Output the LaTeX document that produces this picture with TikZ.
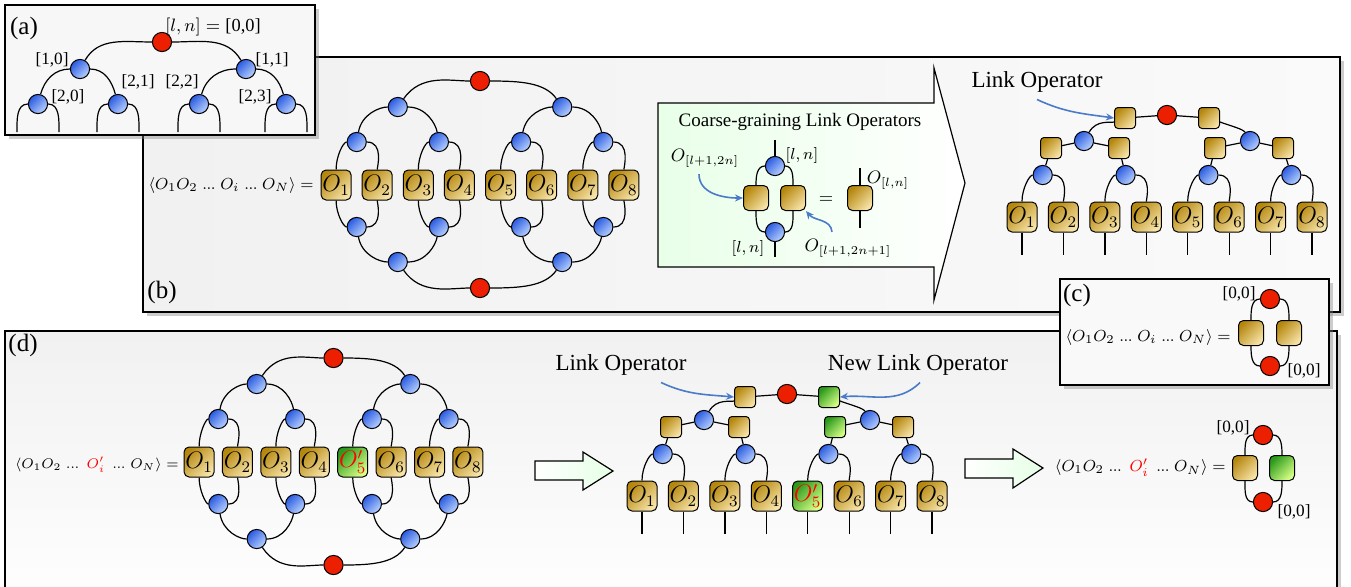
\documentclass[tikz,border=0pt]{standalone}
\usepackage{fontspec}
\setmainfont{Liberation Serif}
\usetikzlibrary{shadows,arrows.meta}

\definecolor{blobdark}{HTML}{2A5BE0}
\definecolor{bloblight}{HTML}{B9D2FF}
\definecolor{golddark}{HTML}{B5870F}
\definecolor{goldlight}{HTML}{F7E3A6}
\definecolor{grndark}{HTML}{2C9A1C}
\definecolor{grnlight}{HTML}{D6FF86}
\definecolor{rootred}{HTML}{EC2000}
\definecolor{pointer}{HTML}{4A7BC9}

\newcommand{\dts}{\mkern2mu\mathinner{.\mkern-0.5mu.\mkern-0.5mu.}\mkern2mu}

\tikzset{
  bond/.style={line width=0.6pt},
  blob/.style={circle, draw, line width=0.5pt, inner sep=0pt, minimum size=9.6pt,
    top color=blobdark, bottom color=bloblight, shading angle=45},
  root/.style={circle, draw, line width=0.5pt, inner sep=0pt, minimum size=9.6pt, fill=rootred},
  op/.style={rectangle, draw, line width=0.5pt, rounded corners=2.5pt, inner sep=0pt,
    minimum size=15pt, top color=golddark, bottom color=goldlight, shading angle=45,
    font=\fontsize{11.5}{13}\selectfont},
  newop/.style={op, top color=grndark, bottom color=grnlight, shading angle=45},
  link/.style={op, minimum size=10.5pt, rounded corners=1.8pt},
  newlink/.style={newop, minimum size=10.5pt, rounded corners=1.8pt},
  pair/.style={op, minimum size=12.5pt},
  newpair/.style={newop, minimum size=12.5pt},
  panel/.style={draw, line width=0.6pt, drop shadow={shadow xshift=2pt, shadow yshift=-2pt, opacity=0.4}},
  fatarrow/.style={draw, line width=0.6pt, left color=white, right color=green!10},
  pointer/.style={draw=pointer, line width=0.8pt, -{Stealth[length=4pt,width=3.5pt]}},
  tag/.style={font=\fontsize{12.5}{14}\selectfont},
  caption/.style={font=\fontsize{11.5}{13}\selectfont},
  idx/.style={font=\fontsize{8.6}{10}\selectfont, inner sep=1pt},
  corr/.style={font=\fontsize{8.1}{10}\selectfont, anchor=east, inner sep=1pt},
}

% the closed double tree of operators
\newcommand{\ovalnet}[2]{%
  \foreach \i/\x in {1/-143.9,2/-102.8,3/-61.7,4/-20.6,6/61.7,7/102.8,8/143.9}
    \node[op] (o\i) at (\x,0) {$O_{\i}$};
  \node[#1] (o5) at (20.6,0) {#2};
  \node[blob] (u1) at (-123.3,43) {};
  \node[blob] (u2) at (-41.1,43) {};
  \node[blob] (u3) at (41.1,43) {};
  \node[blob] (u4) at (123.3,43) {};
  \node[blob] (v1) at (-82.2,78) {};
  \node[blob] (v2) at (82.2,78) {};
  \node[root] (top) at (0,104) {};
  \node[blob] (d1) at (-123.3,-42) {};
  \node[blob] (d2) at (-41.1,-42) {};
  \node[blob] (d3) at (41.1,-42) {};
  \node[blob] (d4) at (123.3,-42) {};
  \node[blob] (w1) at (-82.2,-77) {};
  \node[blob] (w2) at (82.2,-77) {};
  \node[root] (bot) at (0,-103) {};
  \foreach \a/\b/\c/\p/\q in {o1/u1/o2/90/90,o3/u2/o4/90/90,o5/u3/o6/90/90,o7/u4/o8/90/90,
      u1/v1/u2/80/100,u3/v2/u4/80/100,v1/top/v2/55/125,
      o1/d1/o2/-90/-90,o3/d2/o4/-90/-90,o5/d3/o6/-90/-90,o7/d4/o8/-90/-90,
      d1/w1/d2/-80/-100,d3/w2/d4/-80/-100,w1/bot/w2/-55/-125}
    {\draw[bond] (\a) to[out=\p,in=180] (\b); \draw[bond] (\b) to[out=0,in=\q] (\c);}
}

% the tree with link operators on its bonds
\newcommand{\linktree}[4]{%
  \foreach \i/\x in {1/-145,2/-103.6,3/-62.1,4/-20.7,6/62.1,7/103.6,8/145}
    \node[op] (o\i) at (\x,0) {$O_{\i}$};
  \node[#1] (o5) at (20.7,0) {#2};
  \foreach \i/\x in {1/-145,2/-103.6,3/-62.1,4/-20.7,5/20.7,6/62.1,7/103.6,8/145}
    {\coordinate (g\i) at (\x,-38); \draw[bond] (o\i) -- (g\i);}
  \node[blob] (u1) at (-124.3,42) {};
  \node[blob] (u2) at (-41.4,42) {};
  \node[blob] (u3) at (41.4,42) {};
  \node[blob] (u4) at (124.3,42) {};
  \node[link] (s1) at (-116,69) {};
  \node[link] (s2) at (-48,69) {};
  \node[#4] (s3) at (48,69) {};
  \node[link] (s4) at (116,69) {};
  \node[blob] (v1) at (-83,76) {};
  \node[blob] (v2) at (83,76) {};
  \node[link] (t1) at (-42,99) {};
  \node[#3] (t2) at (42,99) {};
  \node[root] (top) at (0,102) {};
  \foreach \a/\b/\c in {o1/u1/o2,o3/u2/o4,o5/u3/o6,o7/u4/o8}
    {\draw[bond] (\a) to[out=90,in=180] (\b); \draw[bond] (\b) to[out=0,in=90] (\c);}
  \draw[bond] (u1) -- (s1) -- (v1) -- (s2) -- (u2);
  \draw[bond] (u3) -- (s3) -- (v2) -- (s4) -- (u4);
  \draw[bond] (v1) to[out=60,in=200] (t1) -- (top) -- (t2) to[out=-20,in=120] (v2);
}

\begin{document}
\begin{tikzpicture}[x=0.5pt,y=0.5pt]
\useasboundingbox (0,0) rectangle (1351,-586);
\clip (0,0) rectangle (1351,-586);

% ---------- (b)
\draw[panel, left color=gray!11, right color=gray!4] (143,-57) rectangle (1340,-312);
\node[tag] (tb) at (162,-292) {(b)};
\node[corr] (eqb) at (316,-185) {$\langle O_1O_2\dts O_i\dts O_N\rangle=$};
\begin{scope}[shift={(480,-185)}, name prefix=bl-]
  \ovalnet{op}{$O_5$}
\end{scope}

% coarse graining
\draw[fatarrow, left color=green!9, right color=white] (658,-103) -- (934,-103) -- (934,-68)
  -- (965,-183) -- (934,-300) -- (934,-267) -- (658,-267) -- cycle;
\node[font=\fontsize{9.5}{11}\selectfont] (cgt) at (800,-122) {Coarse-graining Link Operators};
\node[blob] (cb1) at (775,-166) {};
\node[blob] (cb2) at (775,-232) {};
\node[pair] (cs1) at (756,-198) {};
\node[pair] (cs2) at (793,-198) {};
\coordinate (cu) at (775,-140);
\coordinate (cd) at (775,-257);
\draw[bond] (cu) -- (cb1);
\draw[bond] (cb2) -- (cd);
\draw[bond] (cb1) to[out=180,in=90] (cs1);
\draw[bond] (cb1) to[out=0,in=90] (cs2);
\draw[bond] (cs1) to[out=-90,in=180] (cb2);
\draw[bond] (cs2) to[out=-90,in=0] (cb2);
\node[font=\small] (eqs) at (826,-200) {$=$};
\node[pair] (cs3) at (860,-198) {};
\coordinate (cu3) at (860,-168);
\coordinate (cd3) at (860,-228);
\draw[bond] (cu3) -- (cs3) -- (cd3);
\node[font=\footnotesize] (ln1) at (802,-155) {$[l,n]$};
\node[font=\footnotesize] (ln2) at (748,-248) {$[l,n]$};
\node[font=\small] (olhs) at (705,-158) {$O_{[l+1,2n]}$};
\node[font=\small] (orhs) at (848,-248) {$O_{[l+1,2n+1]}$};
\node[font=\small] (oln) at (888,-180) {$O_{[l,n]}$};
\draw[pointer] ([xshift=-3pt]olhs.south) to[out=-90,in=180] (cs1.west);
\draw[pointer] ([xshift=-8pt]orhs.north) to[out=95,in=-50] (cs2.south east);

\begin{scope}[shift={(1167,-217)}, name prefix=br-]
  \linktree{op}{$O_5$}{link}{link}
\end{scope}
\node[caption] (lkb) at (1037,-82) {Link Operator};
\draw[pointer] (lkb.south) to[out=-25,in=172] (br-t1.west);

% ---------- (a)
\draw[panel, fill=gray!6] (5,-5) rectangle (315,-135);
\node[tag] (ta) at (24,-28) {(a)};
\node[root] (a0) at (162,-42) {};
\node[blob] (a10) at (80,-69) {};
\node[blob] (a11) at (246,-69) {};
\node[blob] (a20) at (38,-104) {};
\node[blob] (a21) at (118,-104) {};
\node[blob] (a22) at (199,-104) {};
\node[blob] (a23) at (286,-104) {};
\draw[bond] (a10) to[out=60,in=180] (a0);
\draw[bond] (a0) to[out=0,in=120] (a11);
\foreach \a/\b/\c in {a20/a10/a21,a22/a11/a23}
  {\draw[bond] (\a) to[out=75,in=180] (\b); \draw[bond] (\b) to[out=0,in=105] (\c);}
\foreach \n/\x in {a20/38,a21/118,a22/199,a23/286}
  {\coordinate (\n-l) at (\x-21,-132); \coordinate (\n-r) at (\x+21,-132);
   \draw[bond] (\n) to[out=180,in=90] (\n-l); \draw[bond] (\n) to[out=0,in=90] (\n-r);}
\node[idx, font=\fontsize{9.2}{11}\selectfont] (k0) at (213,-27) {$[l,n]={}$[0,0]};
\node[idx] (k10) at (52,-60) {[1,0]};
\node[idx] (k11) at (272,-60) {[1,1]};
\node[idx] (k20) at (68,-97) {[2,0]};
\node[idx] (k21) at (138,-82) {[2,1]};
\node[idx] (k22) at (182,-82) {[2,2]};
\node[idx] (k23) at (255,-97) {[2,3]};

% ---------- (d)
\draw[panel, top color=gray!11, bottom color=white] (5,-331) rectangle (1337,-620);
\node[tag] (td) at (23,-345) {(d)};
\node[corr, font=\fontsize{7.5}{9}\selectfont] (eqd) at (181,-465) {$\langle O_1O_2\dts\,{\color{red}O'_i}\,\dts O_N\rangle=$};
\begin{scope}[shift={(333.5,-462)}, xscale=0.934, name prefix=dl-]
  \ovalnet{newop}{$\color{red}O'_5$}
\end{scope}
\draw[fatarrow] (535,-461) -- (583,-461) -- (583,-452) -- (613,-471) -- (583,-490)
  -- (583,-480) -- (535,-480) -- cycle;

\begin{scope}[shift={(787,-496)}, name prefix=dm-]
  \linktree{newop}{$\color{red}O'_5$}{newlink}{newlink}
\end{scope}
\node[caption] (lkd) at (621,-365) {Link Operator};
\node[caption] (nlkd) at (918,-365) {New Link Operator};
\draw[pointer] ([xshift=20pt]lkd.south) to[out=-25,in=175] (dm-t1.west);
\draw[pointer] ([xshift=1pt]nlkd.south) to[out=-135,in=5] (dm-t2.east);

\draw[fatarrow] (965,-459) -- (1013,-459) -- (1013,-449) -- (1043,-468) -- (1013,-488)
  -- (1013,-478) -- (965,-478) -- cycle;
\node[corr, font=\fontsize{7.9}{9}\selectfont] (eqd2) at (1228,-468) {$\langle O_1O_2\dts\,{\color{red}O'_i}\,\dts O_N\rangle=$};
\node[pair] (ql) at (1245,-468) {};
\node[newpair] (qr) at (1282,-468) {};
\node[root] (qt) at (1263,-435) {};
\node[root] (qb) at (1263,-502) {};
\draw[bond] (qt) to[out=180,in=90] (ql);
\draw[bond] (qt) to[out=0,in=90] (qr);
\draw[bond] (ql) to[out=-90,in=180] (qb);
\draw[bond] (qr) to[out=-90,in=0] (qb);
\node[idx] (q0) at (1233,-428) {[0,0]};
\node[idx] (q1) at (1294,-512) {[0,0]};

% ---------- (c)
\draw[panel, fill=gray!5] (1060,-279) rectangle (1329,-385);
\node[tag] (tc) at (1077,-295) {(c)};
\node[corr, font=\fontsize{7.9}{9}\selectfont] (eqc) at (1233,-337) {$\langle O_1O_2\dts O_i\dts O_N\rangle=$};
\node[pair] (cl) at (1251,-333) {};
\node[pair] (cr) at (1289,-333) {};
\node[root] (ct) at (1270,-299) {};
\node[root] (cbt) at (1270,-366) {};
\draw[bond] (ct) to[out=180,in=90] (cl);
\draw[bond] (ct) to[out=0,in=90] (cr);
\draw[bond] (cl) to[out=-90,in=180] (cbt);
\draw[bond] (cr) to[out=-90,in=0] (cbt);
\node[idx] (c0) at (1239,-294) {[0,0]};
\node[idx] (c1) at (1304,-371) {[0,0]};
\end{tikzpicture}
\end{document}
